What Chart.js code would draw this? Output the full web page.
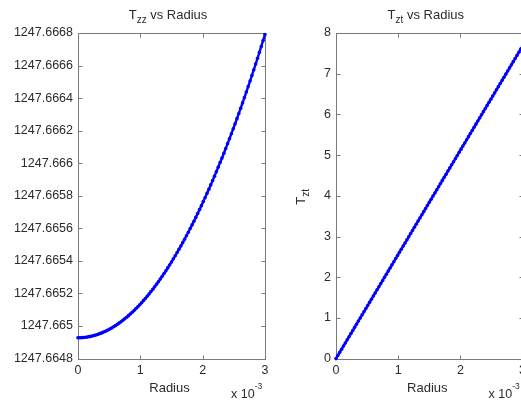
<!DOCTYPE html>
<html>
<head>
<meta charset="utf-8">
<script src="https://cdn.jsdelivr.net/npm/chart.js@4/dist/chart.umd.min.js"></script>
<style>
  html, body { margin: 0; padding: 0; background: #fff; overflow: hidden; }
  #wrap { position: relative; width: 521px; height: 401px; overflow: hidden; }
  canvas { position: absolute; top: 0; }
  #leftChart { left: 0; }
  #rightChart { left: 280px; }
</style>
</head>
<body>
<div id="wrap">
  <canvas id="leftChart" width="280" height="401"></canvas>
  <canvas id="rightChart" width="260" height="401"></canvas>
</div>
<script>
// --- DATA (radius shown in units of 1e-3, as on the axes) ---
const radius = [
  0.00, 0.03, 0.06, 0.09, 0.12, 0.15, 0.18, 0.21, 0.24, 0.27,
  0.30, 0.33, 0.36, 0.39, 0.42, 0.45, 0.48, 0.51, 0.54, 0.57,
  0.60, 0.63, 0.66, 0.69, 0.72, 0.75, 0.78, 0.81, 0.84, 0.87,
  0.90, 0.93, 0.96, 0.99, 1.02, 1.05, 1.08, 1.11, 1.14, 1.17,
  1.20, 1.23, 1.26, 1.29, 1.32, 1.35, 1.38, 1.41, 1.44, 1.47,
  1.50, 1.53, 1.56, 1.59, 1.62, 1.65, 1.68, 1.71, 1.74, 1.77,
  1.80, 1.83, 1.86, 1.89, 1.92, 1.95, 1.98, 2.01, 2.04, 2.07,
  2.10, 2.13, 2.16, 2.19, 2.22, 2.25, 2.28, 2.31, 2.34, 2.37,
  2.40, 2.43, 2.46, 2.49, 2.52, 2.55, 2.58, 2.61, 2.64, 2.67,
  2.70, 2.73, 2.76, 2.79, 2.82, 2.85, 2.88, 2.91, 2.94, 2.97,
  3.00
];

const tzz = [
  1247.6649280, 1247.6649282, 1247.6649287, 1247.6649297, 1247.6649310,
  1247.6649327, 1247.6649347, 1247.6649371, 1247.6649399, 1247.6649431,
  1247.6649466, 1247.6649505, 1247.6649548, 1247.6649595, 1247.6649645,
  1247.6649699, 1247.6649757, 1247.6649818, 1247.6649884, 1247.6649953,
  1247.6650025, 1247.6650102, 1247.6650182, 1247.6650266, 1247.6650353,
  1247.6650444, 1247.6650539, 1247.6650638, 1247.6650741, 1247.6650847,
  1247.6650957, 1247.6651070, 1247.6651188, 1247.6651309, 1247.6651434,
  1247.6651562, 1247.6651694, 1247.6651830, 1247.6651970, 1247.6652114,
  1247.6652261, 1247.6652412, 1247.6652566, 1247.6652725, 1247.6652887,
  1247.6653053, 1247.6653222, 1247.6653395, 1247.6653572, 1247.6653753,
  1247.6653938, 1247.6654126, 1247.6654318, 1247.6654513, 1247.6654713,
  1247.6654916, 1247.6655122, 1247.6655333, 1247.6655547, 1247.6655765,
  1247.6655987, 1247.6656212, 1247.6656441, 1247.6656674, 1247.6656911,
  1247.6657151, 1247.6657395, 1247.6657643, 1247.6657895, 1247.6658150,
  1247.6658409, 1247.6658671, 1247.6658938, 1247.6659208, 1247.6659482,
  1247.6659759, 1247.6660041, 1247.6660326, 1247.6660615, 1247.6660907,
  1247.6661203, 1247.6661503, 1247.6661807, 1247.6662114, 1247.6662425,
  1247.6662740, 1247.6663059, 1247.6663381, 1247.6663707, 1247.6664037,
  1247.6664370, 1247.6664708, 1247.6665048, 1247.6665393, 1247.6665742,
  1247.6666094, 1247.6666449, 1247.6666809, 1247.6667172, 1247.6667539,
  1247.6667910
];

const tzt = [
  0.000, 0.077, 0.154, 0.230, 0.307, 0.384, 0.461, 0.538, 0.614, 0.691,
  0.768, 0.845, 0.922, 0.998, 1.075, 1.152, 1.229, 1.306, 1.382, 1.459,
  1.536, 1.613, 1.690, 1.766, 1.843, 1.920, 1.997, 2.074, 2.150, 2.227,
  2.304, 2.381, 2.458, 2.534, 2.611, 2.688, 2.765, 2.842, 2.918, 2.995,
  3.072, 3.149, 3.226, 3.302, 3.379, 3.456, 3.533, 3.610, 3.686, 3.763,
  3.840, 3.917, 3.994, 4.070, 4.147, 4.224, 4.301, 4.378, 4.454, 4.531,
  4.608, 4.685, 4.762, 4.838, 4.915, 4.992, 5.069, 5.146, 5.222, 5.299,
  5.376, 5.453, 5.530, 5.606, 5.683, 5.760, 5.837, 5.914, 5.990, 6.067,
  6.144, 6.221, 6.298, 6.374, 6.451, 6.528, 6.605, 6.682, 6.758, 6.835,
  6.912, 6.989, 7.066, 7.142, 7.219, 7.296, 7.373, 7.450, 7.526, 7.603,
  7.680
];

const xTicks = [0, 1, 2, 3];
const tzzTicks = [1247.6648, 1247.6668, 0.0002]; // min, max, step
const tztTicks = [0, 8, 1];

// --- STYLE ---
const FONT = '"Liberation Sans", Arial, sans-serif';
const TEXT_COLOR = '#2b2b2b';
const FRAME_COLOR = '#7a7a7a';
const LINE_COLOR = '#0000ff';

// draw "T" + subscript + rest, centred at cx
function drawSubText(ctx, parts, cx, baseline) {
  let total = 0;
  parts.forEach(p => {
    ctx.font = p.size + 'px ' + FONT;
    p.w = ctx.measureText(p.text).width;
    total += p.w;
  });
  let x = cx - total / 2;
  ctx.textAlign = 'left';
  ctx.textBaseline = 'alphabetic';
  parts.forEach(p => {
    ctx.font = p.size + 'px ' + FONT;
    ctx.fillText(p.text, x, baseline + (p.dy || 0));
    x += p.w;
  });
}

const matlabFrame = {
  id: 'matlabFrame',
  beforeDatasetsDraw(chart) {
    const { ctx, chartArea: a, scales: { x, y } } = chart;
    const L = Math.round(a.left) + 0.5, R = Math.round(a.right) + 0.5;
    const T = Math.round(a.top) + 0.5, B = Math.round(a.bottom) + 0.5;
    ctx.save();
    ctx.strokeStyle = FRAME_COLOR;
    ctx.lineWidth = 1;
    ctx.strokeRect(L, T, R - L, B - T);
    ctx.beginPath();
    x.ticks.forEach(t => {
      const px = Math.round(x.getPixelForValue(t.value)) + 0.5;
      ctx.moveTo(px, B); ctx.lineTo(px, B - 4);
      ctx.moveTo(px, T); ctx.lineTo(px, T + 4);
    });
    y.ticks.forEach(t => {
      const py = Math.round(y.getPixelForValue(t.value)) + 0.5;
      ctx.moveTo(L, py); ctx.lineTo(L + 4, py);
      ctx.moveTo(R, py); ctx.lineTo(R - 4, py);
    });
    ctx.stroke();
    ctx.restore();
  },
  afterDraw(chart, args, opts) {
    const { ctx, chartArea: a } = chart;
    const cx = (a.left + a.right) / 2;
    ctx.save();
    ctx.fillStyle = TEXT_COLOR;
    // title
    drawSubText(ctx, [
      { text: 'T', size: 13 },
      { text: opts.sub, size: 10, dy: 4 },
      { text: ' vs Radius', size: 13 }
    ], cx - 3.5, 18.5);
    // x label
    drawSubText(ctx, [{ text: 'Radius', size: 13 }], cx - 2, 391.5);
    // x 10^-3
    ctx.font = '12.5px ' + FONT;
    ctx.textAlign = 'left';
    ctx.fillText('x 10', a.right - 34, 398);
    const w = ctx.measureText('x 10').width;
    ctx.font = '8.5px ' + FONT;
    ctx.fillText('-3', a.right - 34 + w, 389);
    // y label
    if (opts.yLabel) {
      ctx.translate(a.left - 31, (a.top + a.bottom) / 2 + 1);
      ctx.rotate(-Math.PI / 2);
      drawSubText(ctx, [
        { text: 'T', size: 13 },
        { text: opts.yLabel, size: 10, dy: 4 }
      ], 0, 0);
    }
    ctx.restore();
  }
};

function makeChart(id, values, yLim, axisWidth, padRight, frameOpts, yFmt) {
  return new Chart(document.getElementById(id), {
    type: 'line',
    data: {
      datasets: [{
        data: radius.map((r, i) => ({ x: r, y: values[i] })),
        borderColor: LINE_COLOR,
        backgroundColor: LINE_COLOR,
        borderWidth: 2.4,
        pointRadius: 1.8,
        pointBorderWidth: 0,
        pointHoverRadius: 0,
        tension: 0,
        clip: false
      }]
    },
    options: {
      responsive: false,
      devicePixelRatio: 1,
      animation: false,
      events: [],
      layout: { padding: { left: 0, top: 33, right: padRight, bottom: 0 } },
      plugins: {
        legend: { display: false },
        tooltip: { enabled: false },
        matlabFrame: frameOpts
      },
      scales: {
        x: {
          type: 'linear',
          min: xTicks[0],
          max: xTicks[xTicks.length - 1],
          grid: { display: false, drawTicks: false },
          border: { display: false },
          afterBuildTicks: s => { s.ticks = xTicks.map(v => ({ value: v })); },
          ticks: { color: TEXT_COLOR, font: { family: FONT, size: 12.5 }, padding: 4, maxRotation: 0 },
          afterFit: s => { s.height = 42.4; }
        },
        y: {
          min: yLim[0],
          max: yLim[1],
          grid: { display: false, drawTicks: false },
          border: { display: false },
          ticks: {
            stepSize: yLim[2],
            autoSkip: false,
            color: TEXT_COLOR,
            font: { family: FONT, size: 12.5 },
            padding: 5,
            callback: yFmt
          },
          afterFit: s => { s.width = axisWidth; }
        }
      }
    },
    plugins: [matlabFrame]
  });
}

makeChart('leftChart', tzz, tzzTicks, 78, 15, { sub: 'zz' },
  v => Number(v.toFixed(4)).toString());
makeChart('rightChart', tzt, tztTicks, 56, 17.4, { sub: 'zt', yLabel: 'zt' },
  v => Number(v.toFixed(2)).toString());
</script>
</body>
</html>
